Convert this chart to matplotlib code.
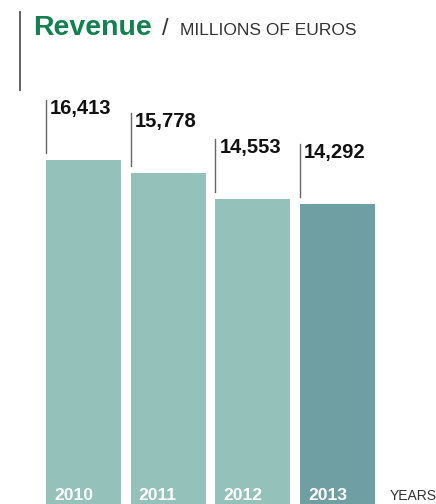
import matplotlib.pyplot as plt
from matplotlib.transforms import offset_copy

years = ['2010', '2011', '2012', '2013']
revenue = [16413, 15778, 14553, 14292]
colors = ['#95c1bb', '#95c1bb', '#95c1bb', '#6f9fa3']

plt.rcParams['font.family'] = ['Liberation Sans', 'DejaVu Sans']

W, H = 436, 504
fig = plt.figure(figsize=(W / 100, H / 100), dpi=100)
ax = fig.add_axes([0, 0, 1, 1])
ax.set_xlim(-0.986, 4.162)
ax.set_ylim(0, 24047)
ax.axis('off')

bw = 0.885
ax.bar(range(len(years)), revenue, width=bw, color=colors)

for i, v in enumerate(revenue):
    left = i - bw / 2
    # thin leader line from just above the bar up to the label
    xp, yp = ax.transData.transform((left, v))
    fig.add_artist(plt.Line2D([xp / W, xp / W], [(yp + 7) / H, (yp + 60) / H],
                              color='#666666', lw=1.0))
    ax.annotate(f'{v:,}', xy=(left, v), xytext=(4, 46), textcoords='offset pixels',
                fontsize=14.5, fontweight='bold', color='#111111',
                ha='left', va='baseline')
    ax.annotate(years[i], xy=(left, 0), xytext=(8, 4), textcoords='offset pixels',
                fontsize=12.6, fontweight='bold', color='white',
                ha='left', va='baseline')

fig.text(390 / W, 4 / H, 'YEARS', fontsize=10, color='#333333', ha='left', va='baseline')

# title block
fig.add_artist(plt.Line2D([20 / W, 20 / W], [1 - 12 / H, 1 - 90 / H], color='#555555', lw=1.3))
fig.text(33 / W, 1 - 35 / H, 'Revenue', fontsize=20.5, fontweight='bold', color='#138050',
         ha='left', va='baseline')
fig.text(162 / W, 1 - 35 / H, '/', fontsize=17, color='#333333', ha='left', va='baseline')
fig.text(180 / W, 1 - 35 / H, 'MILLIONS OF EUROS', fontsize=12.5, color='#333333',
         ha='left', va='baseline')

fig.savefig('out.png', dpi=100)
